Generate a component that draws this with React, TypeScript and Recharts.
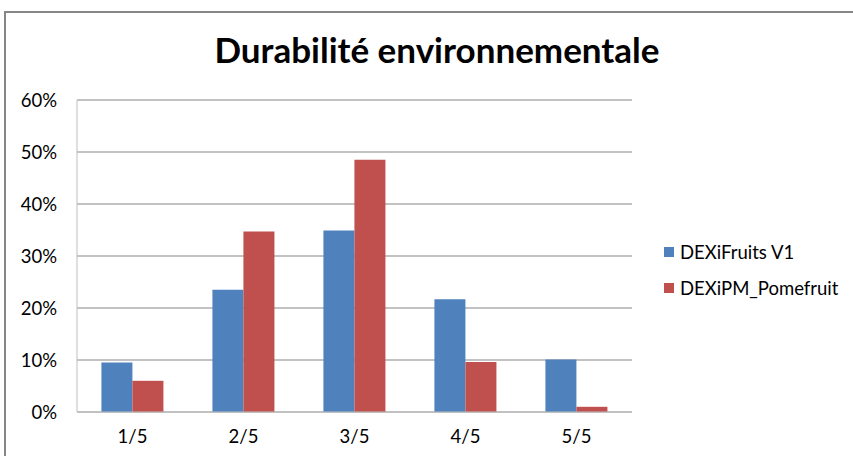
import { BarChart, Bar, XAxis, YAxis, CartesianGrid, Legend } from 'recharts'

const categories = ['1/5', '2/5', '3/5', '4/5', '5/5']
const dexiFruits = [0.095, 0.235, 0.349, 0.217, 0.101]
const dexiPM = [0.06, 0.347, 0.485, 0.096, 0.01]
const yTicks = [0, 0.1, 0.2, 0.3, 0.4, 0.5, 0.6]

const series = [
  { key: 'fruits', name: 'DEXiFruits V1', color: '#4F81BD' },
  { key: 'pm', name: 'DEXiPM_Pomefruit', color: '#C0504D' },
]

const data = categories.map((c, i) => ({ cat: c, fruits: dexiFruits[i], pm: dexiPM[i] }))

const font = 'Lato, "Open Sans", sans-serif'

function LegendBox() {
  return (
    <div style={{ fontFamily: font, fontSize: 18.5, color: '#000' }}>
      {series.map(s => (
        <div key={s.key} style={{ display: 'flex', alignItems: 'center', height: 36 }}>
          <span style={{ width: 10, height: 10, background: s.color, marginRight: 6, display: 'inline-block' }} />
          <span>{s.name}</span>
        </div>
      ))}
    </div>
  )
}

export default function App() {
  return (
    <div style={{ position: 'absolute', left: 0, top: 0, width: 853, height: 456, overflow: 'hidden', background: '#fff' }}>
      <div style={{ position: 'absolute', left: 4, top: 11, width: 860, height: 460, borderLeft: '2px solid #868686', borderTop: '2px solid #868686' }} />
      <div style={{ position: 'absolute', left: 0, width: 874, top: 28, textAlign: 'center', fontFamily: font, fontWeight: 700, fontSize: 35, color: '#000' }}>
        Durabilité environnementale
      </div>
      <BarChart
        width={853}
        height={456}
        data={data}
        margin={{ top: 100, right: 221, left: 17, bottom: 14 }}
        barCategoryGap="22%"
        barGap={0}
      >
        <CartesianGrid vertical={false} stroke="#868686" />
        <XAxis
          dataKey="cat"
          stroke="#BFBFBF"
          tickLine={false}
          tickSize={0}
          tickMargin={18}
          height={30}
          tick={{ fill: '#000', fontSize: 18.5, fontFamily: font }}
        />
        <YAxis
          domain={[0, 0.6]}
          ticks={yTicks}
          interval={0}
          width={60}
          stroke="#BFBFBF"
          tickLine={false}
          tickSize={0}
          tickMargin={20}
          tickFormatter={(v: number) => `${Math.round(v * 100)}%`}
          tick={{ fill: '#000', fontSize: 18.5, fontFamily: font }}
        />
        <Legend
          layout="vertical"
          align="center"
          verticalAlign="middle"
          wrapperStyle={{ left: 664, top: 234, width: 190 }}
          content={() => <LegendBox />}
        />
        {series.map(s => (
          <Bar key={s.key} dataKey={s.key} name={s.name} fill={s.color} isAnimationActive={false} />
        ))}
      </BarChart>
    </div>
  )
}
